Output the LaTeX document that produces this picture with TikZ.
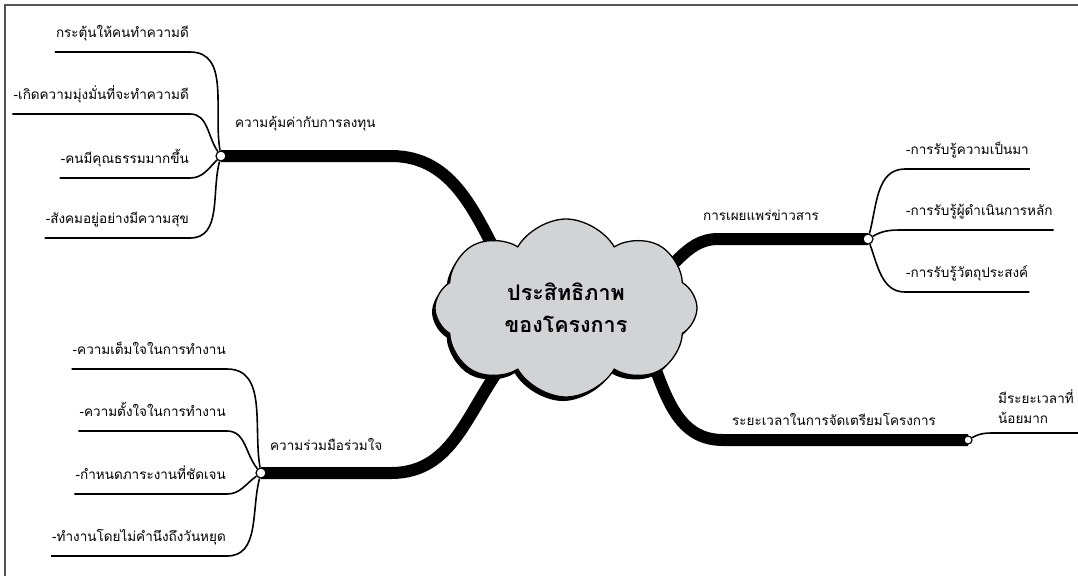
\documentclass[tikz,border=0pt]{standalone}
\usepackage{fontspec}
\setmainfont[Script=Thai]{Loma}
\usetikzlibrary{positioning}
\usetikzlibrary{shapes.symbols}
\usetikzlibrary{shadows}
\usetikzlibrary{backgrounds}

\definecolor{cloudgray}{HTML}{D1D3D4}
\definecolor{framegray}{HTML}{555555}

\tikzset{
    branch/.style={line width=12pt},
    twig/.style={line width=1.6pt},
    hub/.style={circle, draw, fill=white, line width=1.2pt, inner sep=0pt, minimum size=10pt},
    leaf/.style={inner xsep=1pt, inner ysep=0pt, text depth=14pt, font=\fontsize{13.5}{16}\selectfont},
    lbl/.style={inner sep=0pt, font=\fontsize{13.5}{16}\selectfont},
    core/.style={cloud, cloud puffs=8, cloud puff arc=120, cloud ignores aspect, draw, line width=1.3pt,
        fill=cloudgray, minimum width=262pt, minimum height=178pt, align=center,
        drop shadow={opacity=1, fill=black, shadow xshift=-3pt, shadow yshift=-4pt},
        font=\bfseries\fontsize{21.5}{32}\selectfont}
}

\begin{document}
\begin{tikzpicture}[x=1pt,y=1pt]
    \useasboundingbox (0,0) rectangle (1078,-576);
    \draw[line width=2pt, framegray] (1078,-5) -- (5,-5) -- (5,-576); % frame

    \node[core]               (core)  at (566,-308) {ประสิทธิภาพ\\ของโครงการ};

    \node[hub]                (hub_a) at (221,-156) {};
    \node[hub]                (hub_b) at (261,-473) {};
    \node[hub]                (hub_c) at (868,-239) {};
    \node[hub, minimum size=8pt] (hub_d) at (968,-440) {};

    \coordinate (in_a) at (505,-270);
    \coordinate (in_b) at (510,-355);
    \coordinate (in_c) at (640,-285);
    \coordinate (in_d) at (640,-330);
    \coordinate (d_end) at (1078,-433);

    \begin{pgfonlayer}{background}
        \draw[branch] (hub_a.center) -- ++(170,0) to[out=0,in=118] (in_a);
        \draw[branch] (hub_b.center) -- ++(130,0) to[out=0,in=230] (in_b);
        \draw[branch] (hub_c.center) -- ++(-150,0) to[out=180,in=15] (in_c);
        \draw[branch] (hub_d.center) -- ++(-245,0) to[out=180,in=-65] (in_d);
    \end{pgfonlayer}

    \node[lbl, anchor=base west]   (lab_a) at (235,-127) {ความคุ้มค่ากับการลงทุน};
    \node[lbl, anchor=base west]   (lab_b) at (270,-450) {ความร่วมมือร่วมใจ};
    \node[lbl, anchor=base west]   (lab_c) at (703,-220) {การเผยแพร่ข่าวสาร};
    \node[lbl, anchor=base west]   (lab_d) at (732,-425) {ระยะเวลาในการจัดเตรียมโครงการ};

    \node[leaf, anchor=south east] (a_1) at (190,-52)  {กระตุ้นให้คนทำความดี};
    \node[leaf, anchor=south east] (a_2) at (190,-114) {-เกิดความมุ่งมั่นที่จะทำความดี};
    \node[leaf, anchor=south east] (a_3) at (190,-178) {-คนมีคุณธรรมมากขึ้น};
    \node[leaf, anchor=south east] (a_4) at (190,-238) {-สังคมอยู่อย่างมีความสุข};

    \node[leaf, anchor=south east] (b_1) at (227,-369) {-ความเต็มใจในการทำงาน};
    \node[leaf, anchor=south east] (b_2) at (227,-431) {-ความตั้งใจในการทำงาน};
    \node[leaf, anchor=south east] (b_3) at (227,-494) {-กำหนดภาระงานที่ชัดเจน};
    \node[leaf, anchor=south east] (b_4) at (227,-556) {-ทำงานโดยไม่คำนึงถึงวันหยุด};

    \node[leaf, anchor=south west] (c_1) at (905,-169) {-การรับรู้ความเป็นมา};
    \node[leaf, anchor=south west] (c_2) at (905,-230) {-การรับรู้ผู้ดำเนินการหลัก};
    \node[leaf, anchor=south west] (c_3) at (905,-292) {-การรับรู้วัตถุประสงค์};

    \node[leaf, anchor=south west, align=left, text depth=9pt,
          font=\fontsize{13.5}{20}\selectfont] (d_1) at (997,-433) {มีระยะเวลาที่\\น้อยมาก};

    \draw[twig] (hub_a) to[out=100,in=0]  (a_1.south east) -- (a_1.south west);
    \draw[twig] (hub_a) to[out=125,in=0]  (a_2.south east) -- (a_2.south west);
    \draw[twig] (hub_a) to[out=225,in=0]  (a_3.south east) -- (a_3.south west);
    \draw[twig] (hub_a) to[out=255,in=0]  (a_4.south east) -- (a_4.south west);

    \draw[twig] (hub_b) to[out=100,in=0]  (b_1.south east) -- (b_1.south west);
    \draw[twig] (hub_b) to[out=130,in=0]  (b_2.south east) -- (b_2.south west);
    \draw[twig] (hub_b) to[out=215,in=0]  (b_3.south east) -- (b_3.south west);
    \draw[twig] (hub_b) to[out=255,in=0]  (b_4.south east) -- (b_4.south west);

    \draw[twig] (hub_c) to[out=75,in=180]  (c_1.south west) -- (c_1.south east);
    \draw[twig] (hub_c) to[out=30,in=180]  (c_2.south west) -- (c_2.south east);
    \draw[twig] (hub_c) to[out=-70,in=180] (c_3.south west) -- (c_3.south east);

    \draw[twig] (hub_d) to[out=30,in=180]  (d_1.south west) -- (d_end);
\end{tikzpicture}
\end{document}
